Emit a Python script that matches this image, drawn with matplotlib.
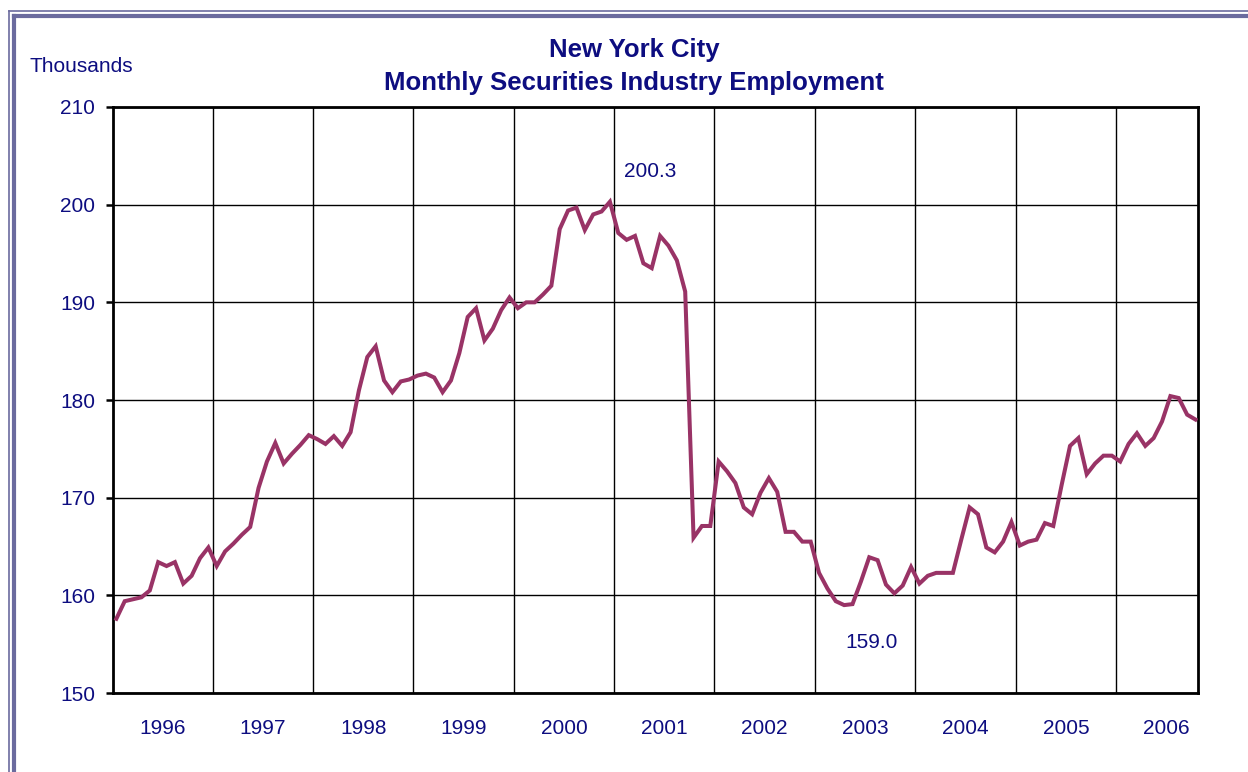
import matplotlib.pyplot as plt
from matplotlib.lines import Line2D
import numpy as np

# Monthly employment, thousands, Jan 1996 - Oct 2006
employment = [
    157.6, 159.4, 159.6, 159.8, 160.5, 163.4, 163.0, 163.4, 161.2, 162.0, 163.8, 164.9,  # 1996
    163.0, 164.5, 165.3, 166.2, 167.0, 171.0, 173.7, 175.6, 173.5, 174.5, 175.4, 176.4,  # 1997
    176.0, 175.5, 176.3, 175.3, 176.7, 181.0, 184.4, 185.5, 182.0, 180.8, 181.9, 182.1,  # 1998
    182.5, 182.7, 182.3, 180.8, 182.0, 184.8, 188.5, 189.4, 186.1, 187.3, 189.2, 190.5,  # 1999
    189.4, 190.0, 190.0, 190.8, 191.7, 197.5, 199.4, 199.7, 197.4, 199.0, 199.3, 200.3,  # 2000
    197.1, 196.4, 196.8, 194.0, 193.5, 196.8, 195.8, 194.3, 191.1, 165.9, 167.1, 167.1,  # 2001
    173.7, 172.7, 171.5, 169.0, 168.3, 170.5, 172.0, 170.6, 166.5, 166.5, 165.5, 165.5,  # 2002
    162.3, 160.7, 159.4, 159.0, 159.1, 161.4, 163.9, 163.6, 161.1, 160.2, 161.0, 162.9,  # 2003
    161.2, 162.0, 162.3, 162.3, 162.3, 165.7, 169.0, 168.3, 164.9, 164.4, 165.5, 167.5,  # 2004
    165.1, 165.5, 165.7, 167.4, 167.1, 171.3, 175.3, 176.1, 172.4, 173.5, 174.3, 174.3,  # 2005
    173.7, 175.5, 176.6, 175.3, 176.1, 177.8, 180.4, 180.2, 178.5, 178.0,                # 2006
]
years = [str(y) for y in range(1996, 2007)]
y_ticks = [150, 160, 170, 180, 190, 200, 210]

navy = '#0d0d80'
plum = '#993366'
frame = '#6b6b9e'

plt.rcParams['font.family'] = ['Liberation Sans', 'DejaVu Sans']

fig = plt.figure(figsize=(12.48, 7.72), dpi=100)
ax = fig.add_axes([113 / 1248, 1 - 693 / 772, 1085 / 1248, 586 / 772])

months = np.arange(len(employment))
ax.plot(months, employment, color=plum, lw=2.9, solid_joinstyle='miter', zorder=3)

ax.set_xlim(-0.4, 129.3)
ax.set_ylim(150, 210)

# year gridlines between December and January, labels mid-year
ax.set_xticks([11.5 + 12 * k for k in range(len(years) - 1)])
ax.set_xticklabels([])
ax.set_xticks([5.5 + 12 * k for k in range(len(years))], minor=True)
ax.set_xticklabels(years, minor=True)
ax.tick_params(axis='x', which='both', length=0, pad=19, labelsize=15, labelcolor=navy)

ax.set_yticks(y_ticks)
ax.tick_params(axis='y', length=5, width=1.8, pad=8, labelsize=15, labelcolor=navy)

ax.grid(True, which='major', color='black', lw=1.0)
for s in ax.spines.values():
    s.set_linewidth(2.0)
    s.set_color('black')

# peak and the trough after it
vals = np.array(employment)
i_max = int(vals.argmax())
i_min = i_max + int(vals[i_max:].argmin())
ax.annotate(f'{vals[i_max]:.1f}', (i_max, vals[i_max]), xytext=(29, 22),
            textcoords='offset points', ha='center', va='center', fontsize=15, color=navy)
ax.annotate(f'{vals[i_min]:.1f}', (i_min, vals[i_min]), xytext=(20, -27),
            textcoords='offset points', ha='center', va='center', fontsize=15, color=navy)

fig.text(634 / 1248, 1 - 50 / 772, 'New York City', ha='center', va='center',
         fontsize=18.5, fontweight='bold', color=navy)
fig.text(634 / 1248, 1 - 83 / 772, 'Monthly Securities Industry Employment', ha='center',
         va='center', fontsize=18.5, fontweight='bold', color=navy)
fig.text(30 / 1248, 1 - 67 / 772, 'Thousands', ha='left', va='center', fontsize=15, color=navy)

# double border on top and left
W, H = 1248, 772
fig.add_artist(Line2D([8.5 / W, 1], [1 - 10.5 / H] * 2, color=frame, lw=1.2, transform=fig.transFigure))
fig.add_artist(Line2D([13.5 / W, 1], [1 - 15.5 / H] * 2, color=frame, lw=3.0, transform=fig.transFigure))
fig.add_artist(Line2D([8.5 / W] * 2, [0, 1 - 10.5 / H], color=frame, lw=1.2, transform=fig.transFigure))
fig.add_artist(Line2D([13.5 / W] * 2, [0, 1 - 15.5 / H], color=frame, lw=3.0, transform=fig.transFigure))

fig.savefig('out.png', dpi=100)
